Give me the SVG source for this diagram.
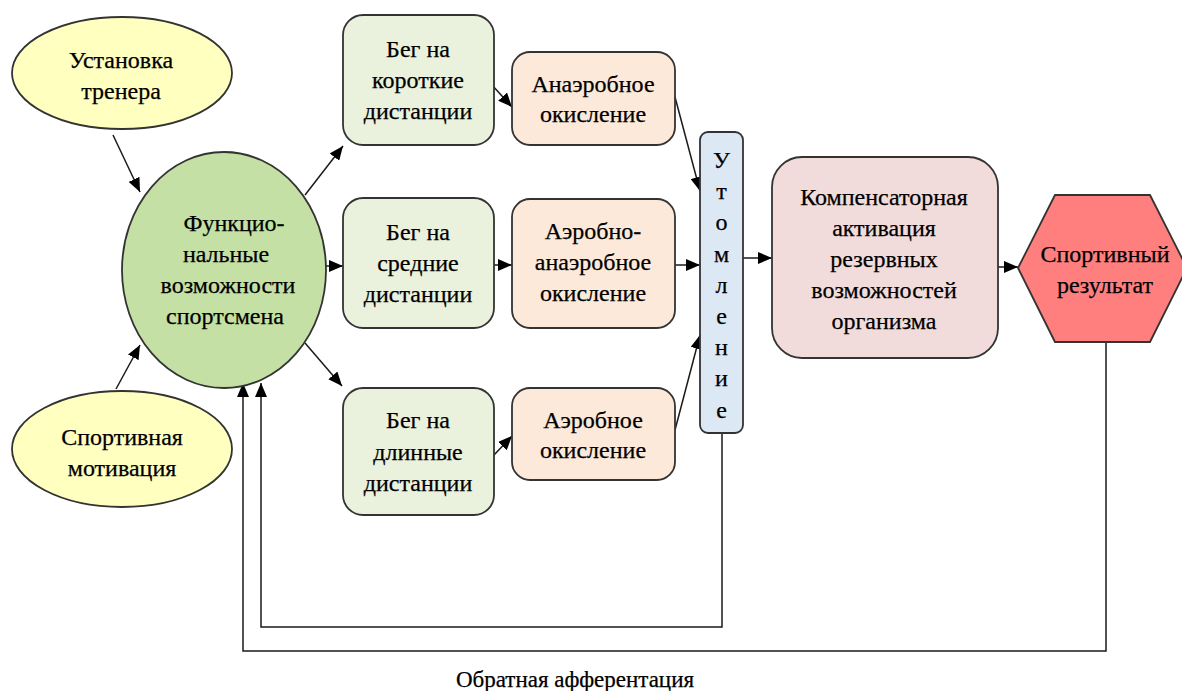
<svg xmlns="http://www.w3.org/2000/svg" width="1182" height="691" viewBox="0 0 1182 691" font-family="Liberation Serif, Times New Roman, serif">
<style>
text{font-size:24px;fill:#000;stroke:#000;stroke-width:0.25;text-anchor:middle}
.sh{stroke:#333;stroke-width:1.8}
.yel{fill:#FFFFC0}
.grn{fill:#C4E0A4}
.lg{fill:#EAF1DD}
.pch{fill:#FDE9D9}
.blu{fill:#DDE8F5}
.pnk{fill:#F2DCDB}
.red{fill:#FF7F7F}
.c{fill:none;stroke:#1a1a1a;stroke-width:1.5}
.lbl{font-size:23px}
</style>
<defs>
<marker id="ah" markerUnits="userSpaceOnUse" markerWidth="14" markerHeight="12" refX="14" refY="6" orient="auto">
<path d="M0,0 L14,6 L0,12 z" fill="#000"/>
</marker>
</defs>
<rect width="1182" height="691" fill="#fff"/>
<g id="connectors">
<line class="c" x1="113" y1="135" x2="140" y2="192" marker-end="url(#ah)"/>
<line class="c" x1="116" y1="389" x2="140" y2="345" marker-end="url(#ah)"/>
<line class="c" x1="305" y1="195" x2="343" y2="146" marker-end="url(#ah)"/>
<line class="c" x1="326" y1="266" x2="343" y2="266" marker-end="url(#ah)"/>
<line class="c" x1="305" y1="343" x2="342" y2="386" marker-end="url(#ah)"/>
<line class="c" x1="492" y1="85" x2="512" y2="107" marker-end="url(#ah)"/>
<line class="c" x1="494" y1="265" x2="512" y2="265" marker-end="url(#ah)"/>
<line class="c" x1="494" y1="455" x2="512" y2="436" marker-end="url(#ah)"/>
<line class="c" x1="675" y1="97" x2="700" y2="191" marker-end="url(#ah)"/>
<line class="c" x1="675" y1="265" x2="700" y2="265" marker-end="url(#ah)"/>
<line class="c" x1="675" y1="430" x2="700" y2="335" marker-end="url(#ah)"/>
<line class="c" x1="743" y1="258" x2="772" y2="258" marker-end="url(#ah)"/>
<line class="c" x1="998" y1="267" x2="1018" y2="267" marker-end="url(#ah)"/>
<polyline class="c" points="1106,342 1106,651 243,651 243,383" marker-end="url(#ah)"/>
<polyline class="c" points="722,433 722,627 261,627 261,383" marker-end="url(#ah)"/>
</g>
<g id="n_ustanovka">
<ellipse class="sh yel" cx="122" cy="73" rx="110" ry="56"/>
<text x="121" y="68">Установка</text>
<text x="121" y="99">тренера</text>
</g>
<g id="n_motivatsiya">
<ellipse class="sh yel" cx="122" cy="449" rx="110" ry="58"/>
<text x="122" y="445">Спортивная</text>
<text x="122" y="476">мотивация</text>
</g>
<g id="n_func">
<ellipse class="sh grn" cx="224" cy="270" rx="102" ry="118"/>
<text x="234" y="231">Функцио-</text>
<text x="226" y="262">нальные</text>
<text x="228" y="293">возможности</text>
<text x="225" y="324">спортсмена</text>
</g>
<g id="n_beg_short">
<rect class="sh lg" x="343" y="15" width="151" height="130" rx="20"/>
<text x="418" y="57">Бег на</text>
<text x="418" y="88">короткие</text>
<text x="418" y="119">дистанции</text>
</g>
<g id="n_beg_mid">
<rect class="sh lg" x="343" y="198" width="151" height="130" rx="20"/>
<text x="418" y="240">Бег на</text>
<text x="418" y="271">средние</text>
<text x="418" y="302">дистанции</text>
</g>
<g id="n_beg_long">
<rect class="sh lg" x="343" y="388" width="151" height="127" rx="20"/>
<text x="418" y="428">Бег на</text>
<text x="418" y="460">длинные</text>
<text x="418" y="491">дистанции</text>
</g>
<g id="n_anaerob">
<rect class="sh pch" x="512" y="52" width="163" height="93" rx="18"/>
<text x="593" y="92">Анаэробное</text>
<text x="593" y="122">окисление</text>
</g>
<g id="n_aerob_anaerob">
<rect class="sh pch" x="512" y="199" width="163" height="129" rx="18"/>
<text x="593" y="239">Аэробно-</text>
<text x="593" y="270">анаэробное</text>
<text x="593" y="301">окисление</text>
</g>
<g id="n_aerob">
<rect class="sh pch" x="512" y="388" width="163" height="92" rx="18"/>
<text x="593" y="428">Аэробное</text>
<text x="593" y="458">окисление</text>
</g>
<g id="n_utomlenie">
<rect class="sh blu" x="700" y="132" width="43" height="301" rx="8"/>
<text x="721.5" y="168">У</text>
<text x="721.5" y="199">т</text>
<text x="721.5" y="230">о</text>
<text x="721.5" y="262">м</text>
<text x="721.5" y="293">л</text>
<text x="721.5" y="324">е</text>
<text x="721.5" y="355">н</text>
<text x="721.5" y="386">и</text>
<text x="721.5" y="418">е</text>
</g>
<g id="n_kompens">
<rect class="sh pnk" x="772" y="157" width="226" height="201" rx="30"/>
<text x="884" y="205">Компенсаторная</text>
<text x="884" y="236">активация</text>
<text x="884" y="267">резервных</text>
<text x="884" y="298">возможностей</text>
<text x="884" y="329">организма</text>
</g>
<g id="n_result">
<polygon class="sh red" points="1018,268 1055,195 1150,195 1187,268 1150,342 1055,342"/>
<text x="1105" y="262">Спортивный</text>
<text x="1105" y="293">результат</text>
</g>
<text class="lbl" x="575" y="687">Обратная афферентация</text>
</svg>
